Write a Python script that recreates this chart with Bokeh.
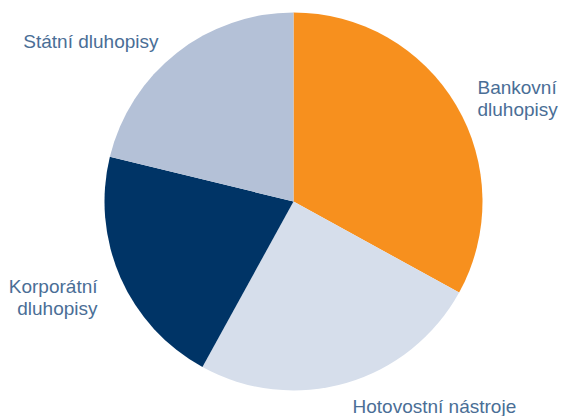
import numpy as np
from bokeh.plotting import figure
from bokeh.models import ColumnDataSource, Range1d
from bokeh.core.properties import value
from bokeh.embed import file_html
from bokeh.resources import INLINE

# --- data ---
categories = ["Bankovní dluhopisy", "Hotovostní nástroje", "Korporátní dluhopisy", "Státní dluhopisy"]
shares = [33.0, 25.0, 20.8, 21.2]
colors = ["#F7901E", "#D6DEEB", "#003466", "#B4C1D7"]

# label lines per category
label_lines = [["Bankovní", "dluhopisy"], ["Hotovostní nástroje"], ["Korporátní", "dluhopisy"], ["Státní dluhopisy"]]

W, H = 561, 416
p = figure(width=W, height=H, output_backend="svg", toolbar_location=None,
           x_range=Range1d(0, W), y_range=Range1d(0, H), min_border=0)
p.axis.visible = False
p.grid.visible = False
p.outline_line_color = None
p.background_fill_color = "white"
p.border_fill_color = "white"

vals = np.array(shares, dtype=float)
frac = vals / vals.sum()
cum = np.concatenate([[0], np.cumsum(frac)])
start_clock = np.pi / 2 - 2 * np.pi * cum[:-1]
end_clock = np.pi / 2 - 2 * np.pi * cum[1:]

src = ColumnDataSource(dict(start=end_clock, end=start_clock, color=colors, cat=categories))
cx, cy, r = 293, 215, 189
p.wedge(x=cx, y=cy, radius=r, radius_units="screen", start_angle="start", end_angle="end",
        direction="anticlock", fill_color="color", line_color=None, source=src)

# label layout: (x, first baseline y, align)
layout = [(477, 329, "left"), (352, 10, "left"), (97, 130, "right"), (158, 375, "right")]
line_h = 21.5
tx, ty, tt, ta = [], [], [], []
for lines, (x, y, a) in zip(label_lines, layout):
    for i, ln in enumerate(lines):
        tx.append(x); ty.append(y - i * line_h); tt.append(ln); ta.append(a)

tsrc = ColumnDataSource(dict(x=tx, y=ty, text=tt, align=ta))
p.text(x="x", y="y", text="text", text_align="align", text_baseline="alphabetic",
       text_font=value("Liberation Sans"), text_font_size="19px", text_color="#4A6E96",
       source=tsrc)

open("out.html", "w").write(file_html(p, INLINE))
